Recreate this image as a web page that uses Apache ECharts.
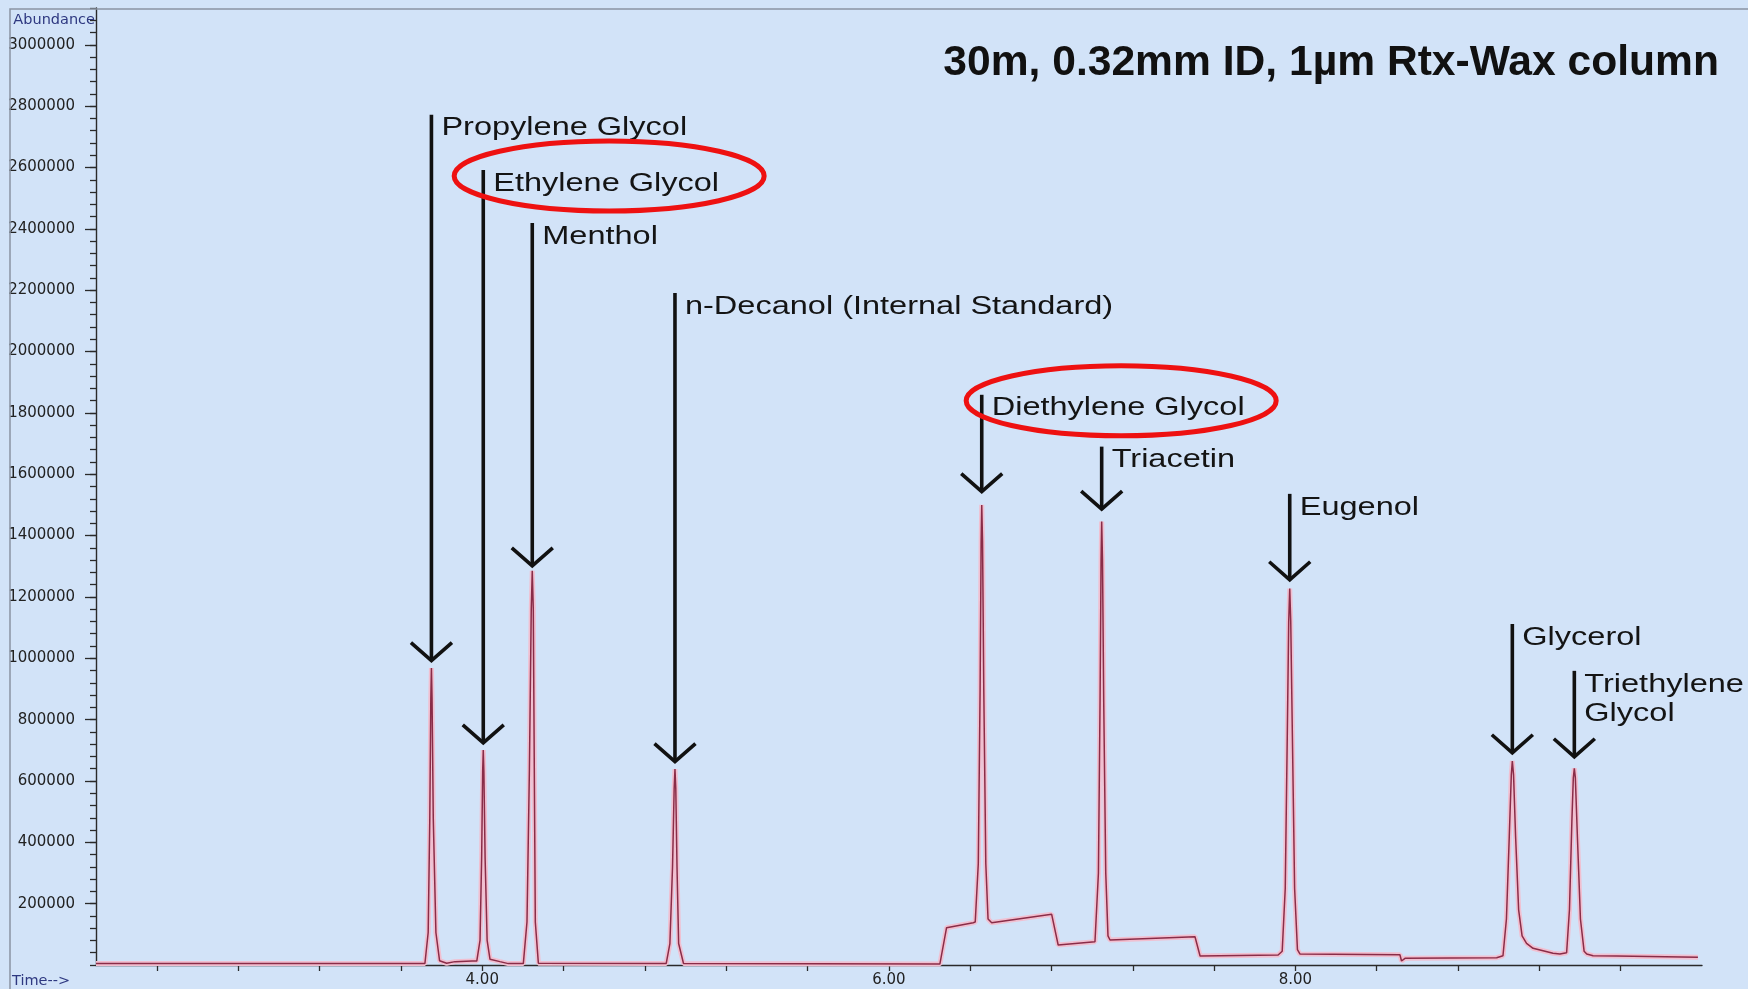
<!DOCTYPE html>
<html>
<head>
<meta charset="utf-8">
<script src="https://cdn.jsdelivr.net/npm/echarts@6/dist/echarts.min.js"></script>
<style>
html,body{margin:0;padding:0;background:#d2e3f8;}
#c{width:1748px;height:989px;}
</style>
</head>
<body>
<div id="c"></div>
<script>
// ---------- data ----------
const chartTitle = '30m, 0.32mm ID, 1µm Rtx-Wax column';
const compounds = ['Propylene Glycol', 'Ethylene Glycol', 'Menthol', 'n-Decanol (Internal Standard)',
  'Diethylene Glycol', 'Triacetin', 'Eugenol', 'Glycerol', 'Triethylene\nGlycol'];
const peakTimes = [3.750, 4.005, 4.246, 4.948, 6.457, 7.047, 7.972, 9.067, 9.372];
const peakTips = [992000, 724000, 1301000, 663000, 1543000, 1486000, 1256000, 692000, 679000];
const labelLevels = [2772000, 2592000, 2419000, 2191000, 1859000, 1690000, 1536000, 1112000, 959000];
const circled = [false, true, false, false, true, false, false, false, false];

const trace = [
  [2.100, 5000], [3.718, 5000],
  [3.734, 106000], [3.742, 480000], [3.747, 870000], [3.750, 968500], [3.753, 870000], [3.759, 480000],
  [3.772, 106000], [3.790, 14000], [3.825, 5500], [3.866, 11000], [3.950, 13000],
  [3.973, 13000], [3.989, 80000], [3.997, 350000], [4.002, 630000], [4.005, 701000], [4.008, 630000],
  [4.014, 350000], [4.024, 80000], [4.038, 19000], [4.087, 11000], [4.128, 4500], [4.202, 4500],
  [4.220, 140000], [4.232, 640000], [4.241, 1160000], [4.246, 1285500], [4.251, 1160000], [4.256, 640000],
  [4.261, 140000], [4.276, 6000], [4.905, 5000],
  [4.923, 70000], [4.936, 320000], [4.944, 575000], [4.948, 638500], [4.952, 575000], [4.958, 320000],
  [4.966, 70000], [4.990, 5000], [6.251, 3000],
  [6.284, 121600], [6.415, 138000],
  [6.425, 140000], [6.440, 330000], [6.449, 900000], [6.454, 1380000], [6.457, 1500000], [6.461, 1380000],
  [6.467, 900000], [6.477, 330000], [6.488, 150000], [6.506, 138000], [6.801, 165300], [6.833, 65200], [7.014, 76000],
  [7.020, 80000], [7.031, 300000], [7.039, 860000], [7.044, 1320000], [7.047, 1445600], [7.051, 1320000],
  [7.057, 860000], [7.067, 300000], [7.078, 95000], [7.088, 81500], [7.506, 92300], [7.531, 29300], [7.915, 32600],
  [7.935, 45000], [7.950, 250000], [7.960, 750000], [7.967, 1120000], [7.972, 1227400], [7.977, 1120000],
  [7.985, 750000], [7.996, 250000], [8.010, 50000], [8.022, 35900], [8.514, 33600], [8.522, 13000], [8.539, 21800], [8.990, 23800],
  [9.021, 30000], [9.038, 150000], [9.052, 420000], [9.062, 620000], [9.067, 665200], [9.073, 620000],
  [9.083, 420000], [9.098, 180000], [9.115, 95000], [9.137, 70800], [9.169, 54500], [9.267, 38200], [9.301, 35900],
  [9.334, 40000], [9.348, 180000], [9.360, 470000], [9.367, 610000], [9.372, 641400], [9.377, 610000],
  [9.387, 420000], [9.402, 150000], [9.420, 45000], [9.433, 35900], [9.464, 30300], [9.580, 29300], [9.586, 25100], [9.980, 25100]
];

const xTickValues = [2.4, 2.8, 3.2, 3.6, 4.0, 4.4, 4.8, 5.2, 5.6, 6.0, 6.4, 6.8, 7.2, 7.6, 8.0, 8.4, 8.8, 9.2, 9.6];
const xLabelValues = [4, 6, 8];
const yLabelValues = [200000, 400000, 600000, 800000, 1000000, 1200000, 1400000, 1600000, 1800000,
  2000000, 2200000, 2400000, 2600000, 2800000, 3000000];

// ---------- chart ----------
const LABEL_FONT = '"Liberation Sans", Arial, sans-serif';
const LABEL_SIZE = 26;
const LABEL_SCALE = 1.25;
const measureCtx = document.createElement('canvas').getContext('2d');
measureCtx.font = LABEL_SIZE + 'px ' + LABEL_FONT;
function textWidth(s) { return measureCtx.measureText(s).width; }

function renderArrow(params, api) {
  const i = params.dataIndex;
  const top = api.coord([api.value(0), api.value(2)]);
  const tip = api.coord([api.value(0), api.value(1)]);
  const x = top[0];
  const children = [
    { type: 'line', shape: { x1: x, y1: top[1], x2: x, y2: tip[1] },
      style: { stroke: '#111', lineWidth: 3.6, lineCap: 'butt' } },
    { type: 'polyline', shape: { points: [[x - 20.5, tip[1] - 18], [x, tip[1]], [x + 20.5, tip[1] - 18]] },
      style: { stroke: '#111', lineWidth: 3.6, fill: 'none', lineJoin: 'miter' } },
    { type: 'text', x: x + 10, y: top[1] - 1, scaleX: LABEL_SCALE,
      style: { text: compounds[i], fontSize: LABEL_SIZE, fontFamily: LABEL_FONT, fill: '#141414',
        align: 'left', verticalAlign: 'top', lineHeight: 29 } }
  ];
  if (circled[i]) {
    const w = textWidth(compounds[i]) * LABEL_SCALE;
    children.push({ type: 'ellipse', shape: { cx: x + 10 + w / 2 + 3, cy: top[1] + 6, rx: 155, ry: 35 },
      style: { stroke: '#ee1111', lineWidth: 5, fill: 'none' } });
  }
  return { type: 'group', children: children };
}

const chart = echarts.init(document.getElementById('c'));
chart.setOption({
  animation: false,
  backgroundColor: '#d2e3f8',
  grid: { left: 96, right: 46, top: 8, bottom: 24, containLabel: false },
  xAxis: {
    type: 'value', min: 2.1, max: 10,
    axisLine: { lineStyle: { color: '#2a2a2a', width: 1.4 } },
    axisTick: { customValues: xTickValues, length: 6, lineStyle: { color: '#2a2a2a', width: 1.3 } },
    axisLabel: { customValues: xLabelValues, formatter: v => v.toFixed(2), margin: 8,
      fontFamily: '"DejaVu Sans", sans-serif', fontSize: 15, color: '#222' },
    splitLine: { show: false }
  },
  yAxis: [
    {
      type: 'value', min: 0, max: 3120000, position: 'left',
      axisLine: { show: true, lineStyle: { color: '#2a2a2a', width: 1.4 } },
      axisTick: { customValues: yLabelValues, length: 11, lineStyle: { color: '#2a2a2a', width: 1.3 } },
      axisLabel: { customValues: yLabelValues, formatter: v => String(v), margin: 21,
        fontFamily: '"DejaVu Sans", sans-serif', fontSize: 15, color: '#222' },
      splitLine: { show: false }
    },
    {
      type: 'value', min: 0, max: 3120000, interval: 40000, position: 'left', offset: 0,
      axisLine: { show: false },
      axisTick: { show: true, length: 6, lineStyle: { color: '#2a2a2a', width: 1.3 } },
      axisLabel: { show: false },
      splitLine: { show: false }
    }
  ],
  graphic: [
    { type: 'rect', silent: true, z: 100, shape: { x: 10, y: 9, width: 1800, height: 1000 },
      style: { fill: 'none', stroke: '#8a94a2', lineWidth: 1.5 } },
    { type: 'text', x: 1719, y: 63, z: 100,
      style: { text: chartTitle, fontFamily: LABEL_FONT, fontWeight: 'bold', fontSize: 42.6, fill: '#111',
        align: 'right', verticalAlign: 'middle' } },
    { type: 'text', x: 95, y: 20, z: 100,
      style: { text: 'Abundance', fontFamily: '"DejaVu Sans", sans-serif', fontSize: 14.5, fill: '#2e3880',
        align: 'right', verticalAlign: 'middle' } },
    { type: 'text', x: 12, y: 981, z: 100,
      style: { text: 'Time-->', fontFamily: '"DejaVu Sans", sans-serif', fontSize: 14.5, fill: '#2e3880',
        align: 'left', verticalAlign: 'middle' } }
  ],
  series: [
    { type: 'line', name: 'halo', data: trace, showSymbol: false, silent: true, z: 2,
      lineStyle: { color: '#f1bfd0', width: 5 } },
    { type: 'line', name: 'TIC', data: trace, showSymbol: false, silent: true, z: 3,
      lineStyle: { color: '#8a2c48', width: 1.5 } },
    { type: 'custom', name: 'peaks', renderItem: renderArrow, clip: false, z: 5, silent: true,
      encode: { x: 0, y: 1 },
      data: peakTimes.map((t, i) => [t, peakTips[i], labelLevels[i]]) }
  ]
});
</script>
</body>
</html>
